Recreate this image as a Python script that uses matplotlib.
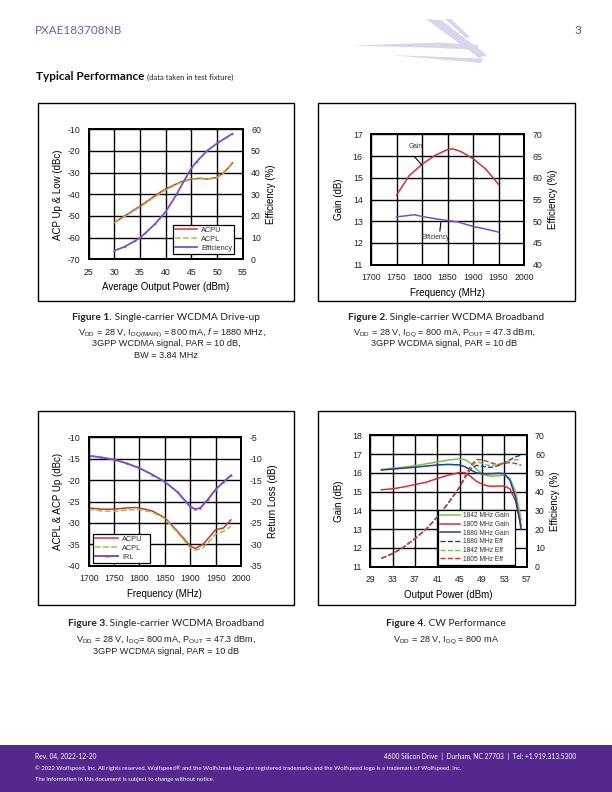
import matplotlib
matplotlib.use("Agg")
import matplotlib.pyplot as plt
from matplotlib.patches import Rectangle, Polygon
from matplotlib.lines import Line2D

plt.rcParams['font.family'] = ['Liberation Sans', 'DejaVu Sans']
plt.rcParams['mathtext.fontset'] = 'custom'
plt.rcParams['mathtext.rm'] = 'Liberation Sans'
plt.rcParams['mathtext.it'] = 'Liberation Sans:italic'
plt.rcParams['axes.unicode_minus'] = False

# ---------------- data ----------------
# Figure 1: drive-up
f1_pout = [30, 32, 35, 38, 40, 42, 43, 45, 47, 48, 50, 51, 52, 53]
f1_acpu = [-53, -50, -45.5, -40.5, -37.5, -35.3, -34.2, -32.9, -32.6, -33.0, -32.2, -30.6, -28.3, -25.5]
f1_acpl = [-53.2, -50.3, -45.9, -41, -38, -35.6, -34.5, -33.1, -32.8, -33.1, -32.4, -30.9, -28.6, -25.8]
f1_eff_x = [30, 32, 34, 35, 36, 38, 40, 42, 44, 45, 46, 48, 50, 52, 53]
f1_eff = [4, 5.8, 8.5, 10, 12, 16.5, 22, 29.5, 38, 42, 45, 50, 53.5, 56.5, 58]

# Figure 2: broadband gain / efficiency
f2_freq = [1750, 1775, 1800, 1825, 1850, 1860, 1875, 1900, 1925, 1950]
f2_gain = [14.2, 15.1, 15.62, 16.02, 16.3, 16.33, 16.22, 15.88, 15.4, 14.7]
f2_eff_freq = [1750, 1765, 1785, 1800, 1825, 1850, 1870, 1900, 1925, 1950]
f2_eff = [51.0, 51.2, 51.5, 51.1, 50.6, 50.15, 49.85, 48.8, 48.2, 47.5]

# Figure 3: broadband ACP / IRL
f3_freq = [1700, 1725, 1750, 1775, 1790, 1800, 1825, 1850, 1875, 1900, 1910, 1925, 1940, 1950, 1965, 1980]
f3_acpu = [-26.5, -26.8, -26.8, -26.5, -26.4, -26.5, -27.2, -28.8, -32.0, -35.4, -36.0, -35.0, -33.0, -31.6, -31.2, -29.3]
f3_acpl = [-26.8, -27.2, -27.3, -27.0, -26.9, -26.9, -27.5, -29.0, -32.3, -35.8, -36.4, -35.8, -34.0, -32.6, -32.0, -30.8]
f3_irl_freq = [1700, 1725, 1750, 1775, 1800, 1825, 1850, 1875, 1900, 1910, 1920, 1935, 1950, 1965, 1980]
f3_irl = [-9.3, -9.7, -10.2, -11.1, -12.2, -13.7, -15.4, -17.8, -21.2, -21.8, -21.5, -19.5, -17.2, -15.5, -13.9]

# Figure 4: CW performance
f4_pout = [31, 33, 35, 37, 39, 41, 43, 45, 46, 47, 48, 49, 50, 51, 52, 53, 54, 55, 56]
f4_gain_1842 = [16.18, 16.25, 16.3, 16.38, 16.48, 16.58, 16.68, 16.75, 16.7, 16.5, 16.2, 15.95, 15.85, 15.82, 15.85, 15.88, 15.7, 15.0, 13.5]
f4_gain_1805 = [15.1, 15.15, 15.25, 15.38, 15.5, 15.7, 15.88, 16.02, 16.0, 15.8, 15.55, 15.4, 15.3, 15.28, 15.3, 15.3, 15.15, 14.5, 13.2]
f4_gain_1880 = [16.15, 16.2, 16.25, 16.3, 16.36, 16.42, 16.45, 16.42, 16.32, 16.15, 16.0, 15.95, 15.95, 15.96, 15.98, 15.95, 15.6, 14.7, 13.0]
f4_eff_1880 = [4.5, 7, 10.5, 15, 20, 26.5, 34, 42.5, 47.5, 52, 54, 53.5, 53, 53, 54, 55.5, 57, 58.5, 59.5]
f4_eff_1842 = [4.5, 7, 10.5, 15, 20, 26.5, 34, 42.5, 48, 53, 56, 55, 54, 54, 54.5, 55.5, 56.5, 57, 57]
f4_eff_1805 = [4.5, 7, 10.5, 15, 20, 26.5, 34, 42.5, 48.5, 54, 57, 57, 56, 55, 54.5, 55, 55.5, 55, 54]

RED = '#d2313a'
GREEN = '#97c83c'
PURPLE = '#7d4fc1'
G4 = '#7dc242'
B4 = '#1f3f99'

W, H = 612, 792
fig = plt.figure(figsize=(W / 100, H / 100), dpi=100)


def fx(px):
    return px / W


def fy(py):
    return 1 - py / H


def axes_px(l, t, r, b):
    return fig.add_axes([fx(l), fy(b), (r - l) / W, (b - t) / H])


def style(ax, ax2):
    for a in (ax, ax2):
        a.tick_params(length=0, labelsize=6.3, pad=6, colors='#222222')
        for s in a.spines.values():
            s.set_linewidth(1.4)
            s.set_color('black')
    ax.grid(True, color='black', linewidth=1.0)
    ax.set_axisbelow(True)


def legend(ax, handles, bbox, hl=3.0, fs=5.3, tp=0.6):
    lg = ax.legend(handles=handles, loc='lower left', bbox_to_anchor=bbox, mode='expand',
                   fontsize=fs, frameon=True, fancybox=False, framealpha=1,
                   edgecolor='black', borderpad=0.3, labelspacing=0.25,
                   handlelength=hl, handletextpad=tp, borderaxespad=0)
    lg.get_frame().set_linewidth(0.9)
    lg.set_zorder(10)
    for t in lg.get_texts():
        t.set_color('#333333')
        t.set_ha('left')
    return lg


# chart frames
for (l, t, r, b) in [(38, 103, 294, 301), (318, 103, 575, 301), (38, 411, 294, 605), (318, 411, 575, 605)]:
    fig.patches.append(Rectangle((fx(l), fy(b)), (r - l) / W, (b - t) / H, transform=fig.transFigure,
                                 fill=False, edgecolor='black', linewidth=1.0))

# ---------------- Figure 1 ----------------
ax1 = axes_px(88.7, 129.3, 242.7, 259.3)
ax1b = ax1.twinx()
style(ax1, ax1b)
ax1.set_xlim(25, 55)
ax1.set_xticks(range(25, 56, 5))
ax1.set_ylim(-70, -10)
ax1.set_yticks(range(-70, -9, 10))
ax1b.set_ylim(0, 60)
ax1b.set_yticks(range(0, 61, 10))
h1, = ax1.plot(f1_pout, f1_acpu, color=RED, lw=1.1, label='ACPU')
h2, = ax1.plot(f1_pout, f1_acpl, color=GREEN, lw=1.1, ls='--', label='ACPL')
h3, = ax1b.plot(f1_eff_x, f1_eff, color=PURPLE, lw=1.3, marker='+', ms=1.8, mew=0.4, label='Efficiency')
ax1.set_xlabel('Average Output Power (dBm)', fontsize=7, labelpad=4)
ax1.set_ylabel('ACP Up & Low (dBc)', fontsize=7, labelpad=3)
ax1b.set_ylabel('Efficiency (%)', fontsize=7, labelpad=4)
legend(ax1b, [h1, h2, h3], (0.545, 0.04, 0.40, 0.19))

# ---------------- Figure 2 ----------------
ax2 = axes_px(371, 134.3, 524, 264.7)
ax2b = ax2.twinx()
style(ax2, ax2b)
ax2.set_xlim(1700, 2000)
ax2.set_xticks(range(1700, 2001, 50))
ax2.set_ylim(11, 17)
ax2.set_yticks(range(11, 18))
ax2b.set_ylim(40, 70)
ax2b.set_yticks(range(40, 71, 5))
ax2.plot(f2_freq, f2_gain, color=RED, lw=1.1)
ax2b.plot(f2_eff_freq, f2_eff, color=PURPLE, lw=1.1)
ax2.set_xlabel('Frequency (MHz)', fontsize=7, labelpad=4)
ax2.set_ylabel('Gain (dB)', fontsize=7, labelpad=6)
ax2b.set_ylabel('Efficiency (%)', fontsize=7, labelpad=4)
ax2.text(1788, 16.43, 'Gain', fontsize=4.8, color='#333333', ha='center', va='center')
ax2.add_line(Line2D([1786, 1800], [15.95, 15.58], color='black', lw=0.8))
ax2.text(1826, 12.27, 'Efficiency', fontsize=4.8, color='#333333', ha='center', va='center')
ax2.add_line(Line2D([1837, 1835], [12.95, 12.55], color='black', lw=0.8))

# ---------------- Figure 3 ----------------
ax3 = axes_px(88.7, 437.3, 241, 565.7)
ax3b = ax3.twinx()
style(ax3, ax3b)
ax3.set_xlim(1700, 2000)
ax3.set_xticks(range(1700, 2001, 50))
ax3.set_ylim(-40, -10)
ax3.set_yticks(range(-40, -9, 5))
ax3b.set_ylim(-35, -5)
ax3b.set_yticks(range(-35, -4, 5))
g1, = ax3.plot(f3_freq, f3_acpu, color=RED, lw=1.1, label='ACPU')
g2, = ax3.plot(f3_freq, f3_acpl, color=GREEN, lw=1.1, ls='--', label='ACPL')
g3, = ax3b.plot(f3_irl_freq, f3_irl, color=PURPLE, lw=1.4, marker='^', ms=1.4, mew=0.3, label='IRL')
ax3.set_xlabel('Frequency (MHz)', fontsize=7, labelpad=4)
ax3.set_ylabel('ACPL & ACP Up (dBc)', fontsize=7, labelpad=3)
ax3b.set_ylabel('Return Loss (dB)', fontsize=7, labelpad=4)
legend(ax3b, [g1, g2, g3], (0.03, 0.02, 0.375, 0.195))

# ---------------- Figure 4 ----------------
ax4 = axes_px(370.3, 435.3, 526.7, 566.7)
ax4b = ax4.twinx()
style(ax4, ax4b)
ax4.set_xlim(29, 57)
ax4.set_xticks(range(29, 58, 4))
ax4.set_ylim(11, 18)
ax4.set_yticks(range(11, 19))
ax4b.set_ylim(0, 70)
ax4b.set_yticks(range(0, 71, 10))
k1, = ax4.plot(f4_pout, f4_gain_1842, color=G4, lw=1.1, label='1842 MHz Gain')
k2, = ax4.plot(f4_pout, f4_gain_1805, color=RED, lw=1.1, label='1805 MHz Gain')
k3, = ax4.plot(f4_pout, f4_gain_1880, color=B4, lw=1.1, label='1880 MHz Gain')
k4, = ax4b.plot(f4_pout, f4_eff_1880, color=B4, lw=1.0, ls='--', label='1880 MHz Eff')
k5, = ax4b.plot(f4_pout, f4_eff_1842, color=G4, lw=1.0, ls='--', label='1842 MHz Eff')
k6, = ax4b.plot(f4_pout, f4_eff_1805, color=RED, lw=1.0, ls='--', label='1805 MHz Eff')
ax4.set_xlabel('Output Power (dBm)', fontsize=7, labelpad=4)
ax4.set_ylabel('Gain (dB)', fontsize=7, labelpad=6)
ax4b.set_ylabel('Efficiency (%)', fontsize=7, labelpad=4)
legend(ax4b, [k1, k2, k3, k4, k5, k6], (0.43, 0.015, 0.495, 0.317), hl=3.0, fs=4.8, tp=0.5)

# ---------------- page text ----------------
renderer = fig.canvas.get_renderer()


def caption(xc, y, bold, normal, size=7.3):
    t1 = fig.text(0, fy(y), bold, fontsize=size, fontweight='bold', family=['Lato', 'DejaVu Sans'],
                  va='center', color='#222222')
    t2 = fig.text(0, fy(y), ' ' + normal, fontsize=size, family=['Lato', 'DejaVu Sans'],
                  va='center', color='#222222')
    w1 = t1.get_window_extent(renderer).width
    w2 = t2.get_window_extent(renderer).width
    x0 = xc - (w1 + w2) / 2
    t1.set_x(fx(x0))
    t2.set_x(fx(x0 + w1))


def sub(xc, y, s, size=6.6):
    fig.text(fx(xc), fy(y), s, fontsize=size, ha='center', va='center', color='#222222')


caption(166, 317, 'Figure 1.', 'Single-carrier WCDMA Drive-up')
sub(172, 333, r'V$_{\rm DD}$ = 28 V, I$_{\rm DQ(MAIN)}$ = 800 mA, $\it{f}$ = 1880 MHz,')
sub(166, 344, '3GPP WCDMA signal, PAR = 10 dB,')
sub(166, 355, 'BW = 3.84 MHz')

caption(446, 317, 'Figure 2.', 'Single-carrier WCDMA Broadband')
sub(444, 333, r'V$_{\rm DD}$ = 28 V, I$_{\rm DQ}$ = 800 mA, P$_{\rm OUT}$ = 47.3 dBm,')
sub(444, 344, '3GPP WCDMA signal, PAR = 10 dB')

caption(166, 624, 'Figure 3.', 'Single-carrier WCDMA Broadband')
sub(166, 640, r'V$_{\rm DD}$ = 28 V, I$_{\rm DQ}$= 800 mA, P$_{\rm OUT}$ = 47.3 dBm,')
sub(166, 651, '3GPP WCDMA signal, PAR = 10 dB')

caption(446, 624, 'Figure 4.', 'CW Performance')
sub(446, 640, r'V$_{\rm DD}$ = 28 V, I$_{\rm DQ}$ = 800 mA')

# header
fig.text(fx(35), fy(30), 'PXAE183708NB', fontsize=8.5, color='#7458ae', va='center',
         family=['Lato', 'DejaVu Sans'])
fig.text(fx(581), fy(30), '3', fontsize=8.5, color='#555555', va='center', ha='right',
         family=['Lato', 'DejaVu Sans'])
t = fig.text(fx(36), fy(77), 'Typical Performance', fontsize=8.5, fontweight='bold', va='center',
             family=['Lato', 'DejaVu Sans'], color='#111111')
wt = t.get_window_extent(renderer).width
fig.text(fx(36 + wt + 3), fy(77.5), '(data taken in test fixture)', fontsize=5.5, va='center',
         family=['Lato', 'DejaVu Sans'], color='#222222')

# logo (decorative streak)
LOGO = '#dcd4ec'
for pts in [
    [(353, 45.5), (440, 42.5), (478, 45), (478, 50), (440, 48)],
    [(426, 19), (441, 20), (487, 55), (479, 58)],
    [(445, 19), (451, 19), (470, 37), (466, 38)],
    [(390, 55), (483, 58.5), (481, 63)],
]:
    fig.patches.append(Polygon([(fx(x), fy(y)) for x, y in pts], closed=True,
                               transform=fig.transFigure, facecolor=LOGO, edgecolor='none'))

# footer band
fig.patches.append(Rectangle((0, 0), 1, fy(745), transform=fig.transFigure,
                             facecolor='#55288e', edgecolor='none'))
fig.text(fx(35), fy(756), 'Rev. 04, 2022-12-20', fontsize=4.8, color='white', va='center',
         family=['Lato', 'DejaVu Sans'])
fig.text(fx(576), fy(756), '4600 Silicon Drive  |  Durham, NC 27703  |  Tel: +1.919.313.5300', fontsize=4.8,
         color='white', va='center', ha='right', family=['Lato', 'DejaVu Sans'])
fig.text(fx(35), fy(768), '\u00a9 2022 Wolfspeed, Inc. All rights reserved. Wolfspeed\u00ae and the Wolfstreak logo are registered '
         'trademarks and the Wolfspeed logo is a trademark of Wolfspeed, Inc.', fontsize=4.2, color='white',
         va='center', family=['Lato', 'DejaVu Sans'])
fig.text(fx(35), fy(779), 'The information in this document is subject to change without notice.', fontsize=4.2,
         color='white', va='center', family=['Lato', 'DejaVu Sans'])

fig.savefig('out.png', dpi=100)
